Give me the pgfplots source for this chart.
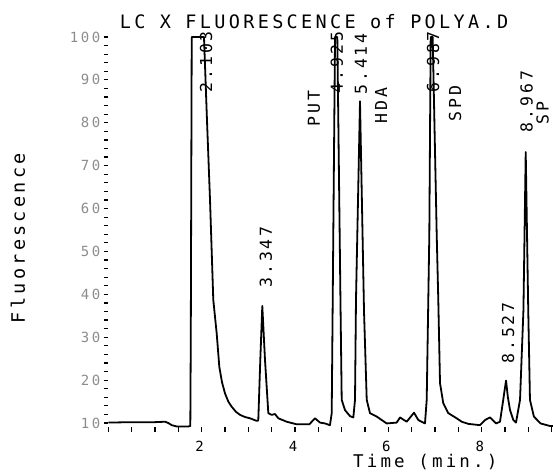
\documentclass[border=0pt]{standalone}
\usepackage{fontspec}
\setmainfont{DejaVu Sans Mono}
\newfontfamily\plotfont[LetterSpace=18]{DejaVu Sans Mono}
\usepackage{pgfplots}
\pgfplotsset{compat=1.18}

% fonts sized in pt, 1pt = 1px of the reference
\newcommand{\bigtxt}{\fontsize{18.5}{18.5}\selectfont\plotfont}
\newcommand{\xlabtxt}{\fontsize{17.5}{17.5}\selectfont\plotfont}
\newcommand{\pktxt}{\fontsize{16.5}{16.5}\selectfont\plotfont}
\newcommand{\ticktxt}{\fontsize{14}{14}\selectfont\plotfont}

\begin{document}
\begin{tikzpicture}
\useasboundingbox (0pt,0pt) rectangle (553pt,471pt);
\clip (0pt,0pt) rectangle (553pt,471pt);
\begin{axis}[
  at={(108.3pt,43.7pt)}, anchor=south west,
  scale only axis, width=466.8pt, height=390.3pt,
  xmin=0, xmax=10, ymin=9, ymax=100,
  clip=false,
  axis line style={draw=none},
  xtick pos=left, ytick pos=left,
  tick align=outside,
  major tick length=4.5pt, minor tick length=4.5pt,
  every tick/.append style={black, line width=1.2pt},
  xtick={2,4,6,8}, xticklabels={2,4,6,8},
  minor xtick={0,0.5,...,10},
  ytick={10,20,...,100}, yticklabels={10,20,30,40,50,60,70,80,90,100},
  minor ytick={12,14,...,98},
  xticklabel style={font=\ticktxt, xshift=-2pt, yshift=-6pt},
  yticklabel style={font=\ticktxt, text=black!45},
]
  % chromatogram trace
  \addplot[black, line width=1.8pt, line join=round] coordinates {
    (0.000,10.1) (0.500,10.2) (1.000,10.2) (1.215,10.3) (1.285,10.0)
    (1.358,9.5) (1.465,9.2) (1.714,9.2) (1.757,9.3) (1.767,30)
    (1.787,100) (2.050,100) (2.114,80.6) (2.179,62) (2.249,38.7)
    (2.322,30.9) (2.378,23.1) (2.436,19.5) (2.500,16.9) (2.571,15.0)
    (2.643,13.8) (2.736,12.6) (2.821,11.9) (2.928,11.4) (3.036,11.1)
    (3.179,10.5) (3.213,10.6) (3.256,24.7) (3.299,37.3) (3.357,24.7)
    (3.428,12.3) (3.500,11.9) (3.571,12.1) (3.642,11.1) (3.822,10.3)
    (4.036,9.7) (4.214,9.7) (4.306,9.7) (4.428,11.1) (4.535,10.1)
    (4.642,9.9) (4.749,9.5) (4.786,12.3) (4.807,38) (4.857,100)
    (4.906,100) (4.974,38) (5.000,15.4) (5.071,13.0) (5.178,11.6)
    (5.249,11.3) (5.285,15.4) (5.306,38.7) (5.392,85) (5.478,36)
    (5.536,15.4) (5.606,12.3) (5.750,11.5) (5.964,9.9) (6.178,10.1)
    (6.249,11.3) (6.392,10.3) (6.549,12.4) (6.641,10.7) (6.784,9.9)
    (6.821,15.4) (6.855,38.7) (6.877,54) (6.906,100) (6.949,100)
    (7.035,54) (7.069,38.7) (7.106,19.3) (7.176,14.6) (7.284,12.3)
    (7.463,11.1) (7.571,10.3) (7.712,9.8) (7.963,9.5) (8.070,10.7)
    (8.177,11.3) (8.306,9.9) (8.391,10.3) (8.455,15) (8.520,19.9)
    (8.560,16) (8.606,13.0) (8.676,10.7) (8.734,10.1) (8.820,15.4)
    (8.893,36.3) (8.942,73.2) (8.996,36.3) (9.033,15.4) (9.117,11.5)
    (9.260,9.9) (9.462,9.3) (9.680,9.3)
  };

  % title and axis names
  \node[font=\bigtxt] at (axis cs:4.407,103.7) {LC X FLUORESCENCE of POLYA.D};
  \node[font=\bigtxt, rotate=90] at (axis cs:-1.935,53.1) {Fluorescence};
  \node[font=\xlabtxt, inner sep=0pt] at (axis cs:6.79,0.95) {Time (min.)};

  % retention times
  \node[font=\pktxt, rotate=90] at (axis cs:2.093,94.2) {2.103};
  \node[font=\pktxt, rotate=90] at (axis cs:3.378,48.7) {3.347};
  \node[font=\pktxt, rotate=90] at (axis cs:4.899,94.0) {4.925};
  \node[font=\pktxt, rotate=90] at (axis cs:5.414,93.7) {5.414};
  \node[font=\pktxt, rotate=90] at (axis cs:6.956,94.2) {6.987};
  \node[font=\pktxt, rotate=90] at (axis cs:8.563,31.0) {8.527};
  \node[font=\pktxt, rotate=90] at (axis cs:8.96,84.9) {8.967};

  % compound names
  \node[font=\pktxt, rotate=90] at (axis cs:4.407,83.4) {PUT};
  \node[font=\pktxt, rotate=90] at (axis cs:5.842,84.1) {HDA};
  \node[font=\pktxt, rotate=90] at (axis cs:7.427,84.4) {SPD};
  \node[font=\pktxt, rotate=90, inner sep=0pt, text depth=0pt, anchor=base west]
    at (axis cs:9.43,79.5) {SP};
\end{axis}
\end{tikzpicture}
\end{document}
